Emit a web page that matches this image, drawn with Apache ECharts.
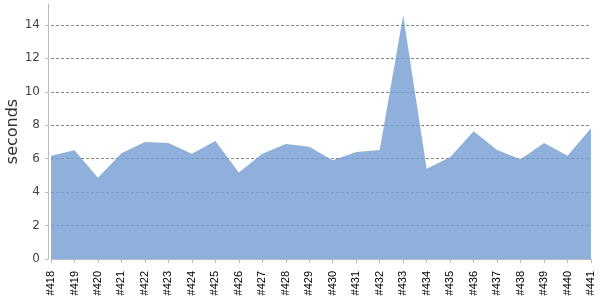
<!DOCTYPE html>
<html>
<head>
<meta charset="utf-8">
<script src="https://cdn.jsdelivr.net/npm/echarts@6/dist/echarts.min.js"></script>
<style>
html,body{margin:0;padding:0;background:#fff;}
#chart{width:600px;height:300px;}
</style>
</head>
<body>
<div id="chart"></div>
<script>
var categories = ['#418','#419','#420','#421','#422','#423','#424','#425','#426','#427','#428','#429','#430','#431','#432','#433','#434','#435','#436','#437','#438','#439','#440','#441'];
var seconds = [6.18,6.5,4.86,6.32,7.0,6.94,6.3,7.06,5.18,6.3,6.88,6.72,5.9,6.4,6.52,14.56,5.4,6.08,7.64,6.52,5.96,6.94,6.18,7.82];
var yTicks = [0,2,4,6,8,10,12,14];

var chart = echarts.init(document.getElementById('chart'), null, {renderer:'canvas'});
chart.setOption({
  animation: false,
  backgroundColor: '#ffffff',
  grid: {left: 51, right: 9, top: 4, bottom: 41, containLabel: false, outerBoundsMode: 'none'},
  xAxis: {
    type: 'category',
    data: categories,
    boundaryGap: false,
    offset: 4,
    axisLine: {lineStyle: {color: '#bbbbbb', width: 1}},
    axisTick: {show: true, length: 4, lineStyle: {color: '#bbbbbb'}},
    axisLabel: {rotate: 90, interval: 0, color: '#000000', fontFamily: 'Liberation Sans', fontSize: 11, margin: 8},
    splitLine: {show: false}
  },
  yAxis: {
    type: 'value',
    min: 0,
    max: 15.25,
    interval: 2,
    offset: 3,
    name: 'seconds',
    nameLocation: 'middle',
    nameGap: 27,
    nameMoveOverlap: false,
    nameTextStyle: {color: '#333333', fontFamily: 'DejaVu Sans', fontSize: 16},
    axisLine: {show: true, lineStyle: {color: '#bbbbbb', width: 1}},
    axisTick: {show: true, length: 3, lineStyle: {color: '#bbbbbb'}, customValues: yTicks},
    axisLabel: {color: '#444444', fontFamily: 'DejaVu Sans', fontSize: 12, margin: 8, customValues: yTicks},
    splitLine: {show: true, showMinLine: false, lineStyle: {color: '#888888', type: [3, 2], width: 1}}
  },
  series: [{
    type: 'line',
    data: seconds,
    symbol: 'none',
    smooth: false,
    lineStyle: {width: 0},
    areaStyle: {color: 'rgb(114,156,210)', opacity: 0.8}
  }]
});
</script>
</body>
</html>
